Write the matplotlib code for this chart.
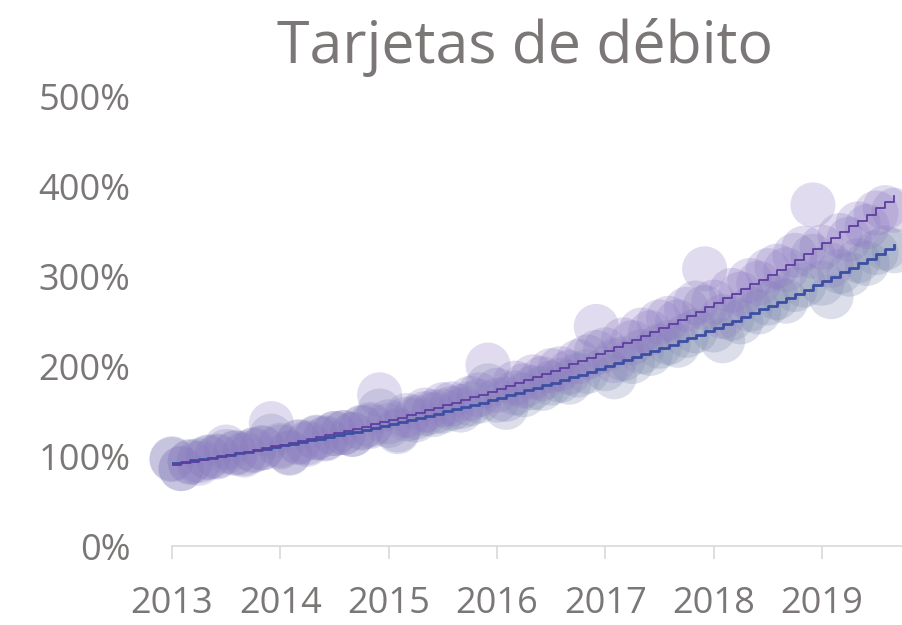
import numpy as np
import matplotlib
matplotlib.use("Agg")
import matplotlib.pyplot as plt

# Monthly index, Jan 2013 .. Sep 2019 (2013 = 100% base)
years = [2013, 2014, 2015, 2016, 2017, 2018, 2019]

purple_vals = [
    97, 86, 93, 92, 98, 99, 110, 103, 101, 106, 109, 136,
    110, 103, 115, 113, 120, 119, 125, 126, 124, 132, 135, 168,
    138, 129, 145, 143, 151, 149, 157, 158, 155, 164, 168, 201,
    173, 163, 181, 178, 188, 186, 195, 197, 193, 205, 210, 244,
    218, 206, 229, 226, 240, 237, 249, 253, 249, 263, 270, 308,
    271, 255, 284, 280, 295, 292, 306, 311, 307, 323, 331, 379,
    332, 312, 345, 341, 358, 355, 370, 376, 373,
]
blue_vals = [
    96, 86, 94, 95, 99, 100, 105, 104, 103, 107, 109, 122,
    112, 104, 116, 115, 121, 120, 125, 126, 124, 131, 133, 150,
    134, 127, 141, 140, 147, 146, 150, 153, 151, 158, 161, 178,
    162, 154, 170, 168, 176, 175, 181, 184, 182, 190, 194, 215,
    197, 188, 208, 205, 216, 214, 222, 226, 223, 234, 239, 265,
    240, 228, 253, 249, 263, 260, 270, 276, 272, 285, 290, 322,
    292, 277, 305, 302, 317, 314, 326, 331, 328,
]

TEXT = "#7a7776"
plt.rcParams["font.family"] = ["Open Sans", "DejaVu Sans"]

t = 2013 + np.arange(len(purple_vals)) / 12.0


def exp_trend(x, y):
    # exponential trend line fitted to the monthly values
    b, a = np.polyfit(x - 2013, np.log(y), 1)
    return np.exp(a + b * (x - 2013))


fig = plt.figure(figsize=(9.03, 6.25), dpi=100)
ax = fig.add_axes([172 / 903, 79 / 625, 731 / 903, 450 / 625])

ax.scatter(t, blue_vals, s=1050, color="#7f8bb0", alpha=0.27,
           edgecolors="none", clip_on=False, zorder=2)
ax.scatter(t, purple_vals, s=1050, color="#8e7cc3", alpha=0.27,
           edgecolors="none", clip_on=False, zorder=2)

ax.plot(t, exp_trend(t, blue_vals), color="#3d4fa3", lw=2.0,
        drawstyle="steps-post", zorder=3)
ax.plot(t, exp_trend(t, purple_vals), color="#5e3f9e", lw=1.3,
        drawstyle="steps-post", zorder=4)

ax.set_xlim(2013, 2013 + 731 / 108.33)
ax.set_ylim(0, 500)
ax.set_xticks(years)
ax.set_xticklabels([str(y) for y in years])
ax.set_yticks(range(0, 501, 100))
ax.set_yticklabels([f"{v}%" for v in range(0, 501, 100)])

for side in ("top", "right", "left"):
    ax.spines[side].set_visible(False)
ax.spines["bottom"].set_color("#d9d9d9")
ax.spines["bottom"].set_linewidth(1.2)
ax.tick_params(axis="x", colors="#d9d9d9", length=9, width=1.2,
               labelcolor=TEXT, labelsize=26, pad=20)
ax.tick_params(axis="y", length=0, labelcolor=TEXT, labelsize=26, pad=30)

fig.text(525 / 903, 1 - 63 / 625, "Tarjetas de débito", ha="center",
         va="baseline", fontsize=42.5, color=TEXT)

fig.savefig("out.png", dpi=100)
